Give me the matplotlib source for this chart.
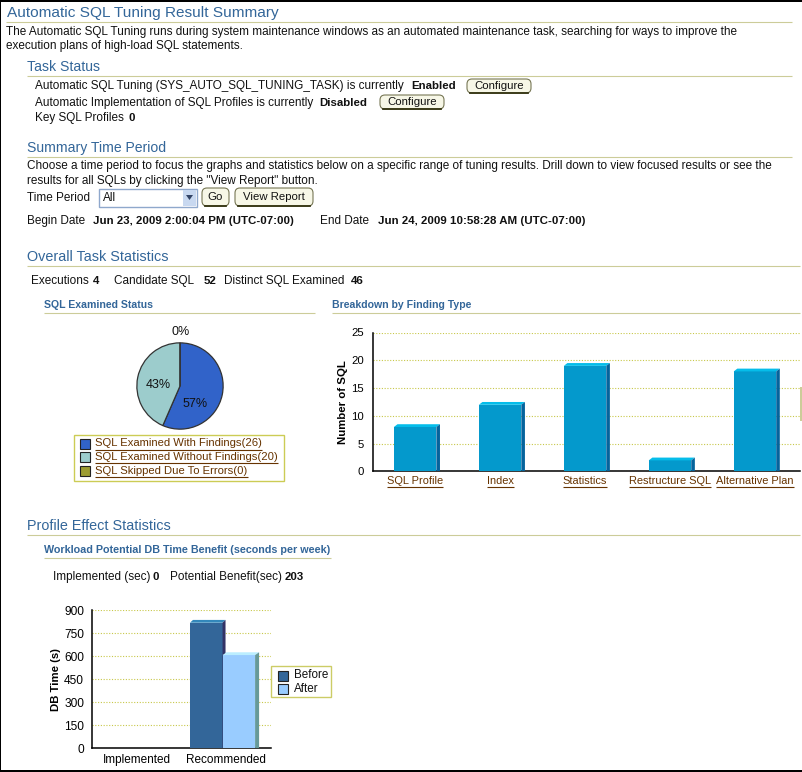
import matplotlib
matplotlib.use("Agg")
import matplotlib.pyplot as plt
from matplotlib.patches import Rectangle, FancyBboxPatch, Polygon

plt.rcParams['font.family'] = ['Liberation Sans', 'DejaVu Sans']

W, H = 803, 772

# pie
pie_labels = ["SQL Examined With Findings(26)", "SQL Examined Without Findings(20)", "SQL Skipped Due To Errors(0)"]
pie_values = [26, 20, 0]
pie_pct = ["57%", "43%", "0%"]
pie_colors = ["#3163c9", "#9ccccc", "#9c9c31"]

# findings bars
finding_types = ["SQL Profile", "Index", "Statistics", "Restructure SQL", "Alternative Plan"]
finding_counts = [8, 12, 19, 2, 18]
finding_ticks = [0, 5, 10, 15, 20, 25]

# db time bars
effect_cats = ["Implemented", "Recommended"]
series_names = ["Before", "After"]
before_vals = [0, 819]
after_vals = [0, 608]
effect_ticks = [0, 150, 300, 450, 600, 750, 900]

BLUE = "#336699"
RULE = "#cccc99"
LINK = "#663300"
BODY = 8.45
BOLD = 8.25
H1 = 10.1
H2 = 10.4
H3 = 7.6


def axes_px(x0, y0, x1, y1):
    # pixel box, y measured from the top of the picture
    return fig.add_axes([x0 / W, 1 - y1 / H, (x1 - x0) / W, (y1 - y0) / H])


def txt(x, y, s, size=BODY, color="#111111", weight="normal", **kw):
    return page.text(x, y + 1, s, fontsize=size, color=color, weight=weight, va="center", **kw)


def rule(x0, x1, y, color=RULE, lw=0.8):
    page.plot([x0, x1], [y, y], color=color, lw=lw, solid_capstyle="butt")


def button(x0, x1, y0, y1, label):
    page.add_patch(FancyBboxPatch((x0 + 4, y0 + 4), x1 - x0 - 8, y1 - y0 - 8,
                                  boxstyle="round,pad=4,rounding_size=5", fc="#f7f7e7", ec="#777755", lw=0.8))
    page.plot([x0 + 3, x1 - 3], [y1 - 0.3, y1 - 0.3], color="#333311", lw=1.3)
    txt((x0 + x1) / 2, (y0 + y1) / 2 - 1, label, size=8.2, ha="center")


def underline(t, color=LINK):
    # link style underline, as wide as the text really is
    bb = t.get_window_extent(fig.canvas.get_renderer())
    y = H - bb.y0 + 1
    page.plot([bb.x0, bb.x1], [y, y], color=color, lw=0.8, solid_capstyle="butt")


def bars_3d(ax, xs, vals, width, front, top, side, dx, dy):
    # fake depth: offsets are in pixels, converted to data units of this axes
    x0, x1 = ax.get_xlim()
    y0, y1 = ax.get_ylim()
    bb = ax.get_position()
    ux = (x1 - x0) / (bb.width * W)
    uy = (y1 - y0) / (bb.height * H)
    for x, v in zip(xs, vals):
        if v <= 0:
            continue
        left, right = x - width / 2, x + width / 2
        ax.bar(x, v, width, color=front, zorder=3)
        ax.add_patch(Polygon([(left, v), (left + dx * ux, v + dy * uy), (right + dx * ux, v + dy * uy), (right, v)],
                             fc=top, ec="none", zorder=3))
        ax.add_patch(Polygon([(right, 0), (right + dx * ux, 0), (right + dx * ux, v + dy * uy), (right, v)],
                             fc=side, ec="none", zorder=3))


def style_axes(ax, ticks, ylabel, tick_size, xpad, ypad, labelpad):
    for s in ("top", "right"):
        ax.spines[s].set_visible(False)
    for s in ("left", "bottom"):
        ax.spines[s].set_linewidth(1.1)
    ax.set_yticks(ticks)
    ax.tick_params(axis="y", length=0, labelsize=tick_size, pad=ypad)
    ax.tick_params(axis="x", length=0, pad=xpad)
    ax.yaxis.grid(True, color="#c8c84a", linestyle=(0, (1, 1.5)), lw=0.8, zorder=0)
    ax.set_axisbelow(True)
    ax.set_ylabel(ylabel, fontsize=8.2, weight="bold", labelpad=labelpad)
    ax.patch.set_alpha(0)


fig = plt.figure(figsize=(W / 100, H / 100), dpi=100, facecolor="white")

# page layer in pixel coordinates, sits on top so the pie labels show
page = fig.add_axes([0, 0, 1, 1])
page.set_xlim(0, W)
page.set_ylim(H, 0)
page.axis("off")
page.set_zorder(5)

# screenshot border
page.add_patch(Rectangle((0, 0), W, 1.5, fc="black", ec="none"))
page.add_patch(Rectangle((0, 0), 1.5, H, fc="black", ec="none"))
page.add_patch(Rectangle((0, H - 2), W, 2, fc="black", ec="none"))

txt(7, 12, "Automatic SQL Tuning Result Summary", size=11.1, color=BLUE)
rule(6, 792, 21.5)
txt(6, 31, "The Automatic SQL Tuning runs during system maintenance windows as an automated maintenance task, searching for ways to improve the")
txt(6, 45.5, "execution plans of high-load SQL statements.")

txt(27, 66, "Task Status", size=H1, color=BLUE)
rule(27, 792, 75.5)
txt(35, 85, "Automatic SQL Tuning (SYS_AUTO_SQL_TUNING_TASK) is currently")
txt(411, 85, "Enabled", weight="bold", size=BOLD)
button(467, 531, 79, 93, "Configure")
txt(35, 102, "Automatic Implementation of SQL Profiles is currently")
txt(319, 102, "Disabled", weight="bold", size=BOLD)
button(380, 444, 95, 109, "Configure")
txt(35, 117, "Key SQL Profiles")
txt(129, 117, "0", weight="bold", size=BOLD)

txt(27, 147, "Summary Time Period", size=H1, color=BLUE)
rule(27, 792, 156.5)
txt(27, 165, "Choose a time period to focus the graphs and statistics below on a specific range of tuning results. Drill down to view focused results or see the")
txt(27, 180, "results for all SQLs by clicking the \"View Report\" button.")
txt(27, 197, "Time Period")
page.add_patch(Rectangle((99, 188.5), 98, 18, fc="white", ec="#8fa8cc", lw=1))
page.add_patch(Rectangle((183, 189.5), 13, 16, fc="#c8d8f0", ec="none"))
page.add_patch(Polygon([(186, 195), (193, 195), (189.5, 200)], fc="#334466", ec="none"))
txt(103, 197, "All")
button(202, 229, 188, 206, "Go")
button(235, 313, 188, 206, "View Report")
txt(27, 220, "Begin Date")
txt(93, 220, "Jun 23, 2009 2:00:04 PM (UTC-07:00)", weight="bold", size=BOLD)
txt(320, 220, "End Date")
txt(378, 220, "Jun 24, 2009 10:58:28 AM (UTC-07:00)", weight="bold", size=BOLD)

txt(27, 256, "Overall Task Statistics", size=H2, color=BLUE)
rule(27, 800, 266)
txt(31, 280, "Executions")
txt(93, 280, "4", weight="bold", size=BOLD)
txt(114, 280, "Candidate SQL")
txt(204, 280, "52", weight="bold", size=BOLD)
txt(224, 280, "Distinct SQL Examined")
txt(351, 280, "46", weight="bold", size=BOLD)

txt(44, 304, "SQL Examined Status", size=H3, color=BLUE, weight="bold")
rule(44, 315, 312.5)
txt(332, 304, "Breakdown by Finding Type", size=H3, color=BLUE, weight="bold")
rule(332, 800, 312.5)
page.add_patch(Rectangle((800, 387), 2, 34, fc=RULE, ec="none"))

# legend under pie
page.add_patch(Rectangle((74.5, 434.5), 210, 46.5, fc="white", ec="#cccc55", lw=1))
for i, lab in enumerate(pie_labels):
    y = 443.5 + i * 13.5
    page.add_patch(Rectangle((80.5, y - 5), 10, 10, fc=pie_colors[i], ec="#222222", lw=0.8))
    underline(page.text(95.5, y, lab, fontsize=8.1, color=LINK, va="center"))

# pie
ax_pie = axes_px(136, 342, 224, 430)
ax_pie.pie(pie_values, colors=pie_colors, startangle=90, counterclock=False, radius=1,
           wedgeprops=dict(edgecolor="#333333", linewidth=0.9))
ax_pie.set_xlim(-1.02, 1.02)
ax_pie.set_ylim(-1.02, 1.02)
txt(195, 403, pie_pct[0], size=9, ha="center")
txt(158, 384, pie_pct[1], size=9, ha="center")
txt(181, 331, pie_pct[2], size=9, ha="center")

# findings chart, categories are a bit narrower than the axis
ax_f = axes_px(373.5, 332.5, 800, 471.5)
ax_f.set_xlim(0, 5.02)
ax_f.set_ylim(0, 25)
xs_f = [i + 0.49 for i in range(len(finding_types))]
style_axes(ax_f, finding_ticks, "Number of SQL", 8.2, 3, 7, 2)
ax_f.set_xticks(xs_f)
ax_f.set_xticklabels(finding_types, color=LINK, fontsize=7.95)
bars_3d(ax_f, xs_f, finding_counts, 0.5, "#0499cc", "#05bdea", "#05639c", 3.6, 2.8)
fig.canvas.draw()
for lab in ax_f.get_xticklabels():
    underline(lab)

# profile effect section
txt(27, 525, "Profile Effect Statistics", size=H2, color=BLUE)
rule(27, 800, 535)
txt(44, 549, "Workload Potential DB Time Benefit (seconds per week)", size=7.75, color=BLUE, weight="bold")
rule(44, 331, 557.5)
txt(53, 576, "Implemented (sec)")
txt(153, 576, "0", weight="bold", size=BOLD)
txt(170, 576, "Potential Benefit(sec)")
txt(285, 576, "203", weight="bold", size=BOLD)

# db time chart
ax_e = axes_px(92.3, 610.3, 270.7, 748.3)
ax_e.set_xlim(0, len(effect_cats))
ax_e.set_ylim(0, 900)
style_axes(ax_e, effect_ticks, "DB Time (s)", 8.6, 4, 6, 2)
ax_e.set_xticks([i + 0.5 for i in range(len(effect_cats))])
ax_e.set_xticklabels(effect_cats, fontsize=8.5)
bar_w = 0.365
bars_3d(ax_e, [i + 0.46 - bar_w / 2 for i in range(2)], before_vals, bar_w, "#336699", "#3388bb", "#333366", 3, 2.8)
bars_3d(ax_e, [i + 0.46 + bar_w / 2 for i in range(2)], after_vals, bar_w, "#99ccff", "#bbeeff", "#669999", 4, 2.8)

page.add_patch(Rectangle((271.5, 665.5), 60, 31.5, fc="white", ec="#cccc66", lw=1))
for i, (lab, col) in enumerate(zip(series_names, ["#336699", "#99ccff"])):
    y = 675.5 + i * 13
    page.add_patch(Rectangle((278.5, y - 5), 10, 10, fc=col, ec="#222222", lw=0.8))
    page.text(294, y, lab, fontsize=8.4, color="#111111", va="center")

fig.savefig("out.png", dpi=100)
